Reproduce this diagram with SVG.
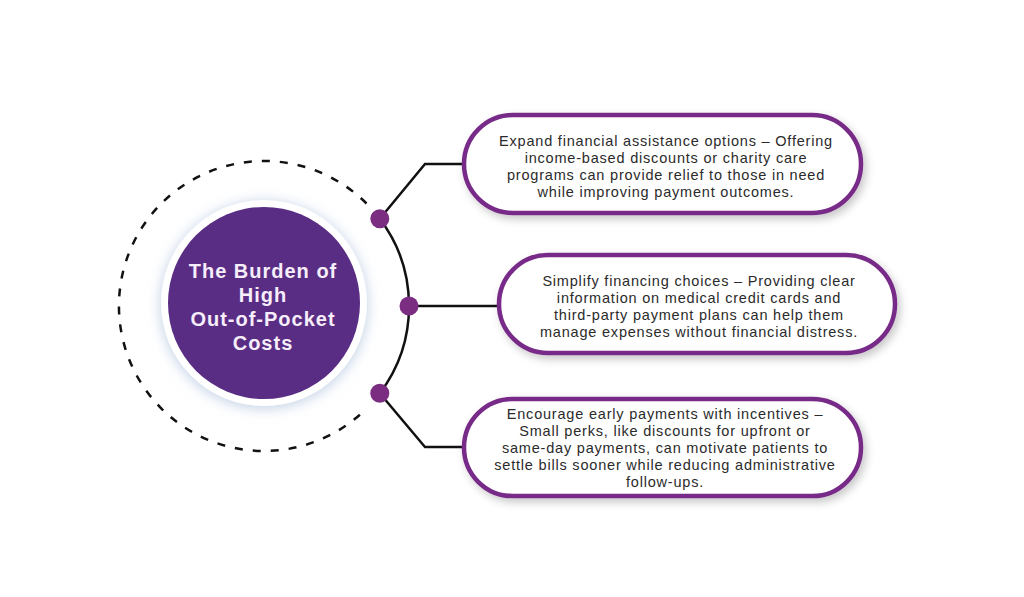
<svg xmlns="http://www.w3.org/2000/svg" width="1024" height="597" viewBox="0 0 1024 597">
<defs>
<filter id="glow" x="-30%" y="-30%" width="160%" height="160%">
<feDropShadow dx="0" dy="2" stdDeviation="7" flood-color="#a9bedc" flood-opacity="0.75"/>
</filter>
<filter id="shadow" x="-10%" y="-20%" width="125%" height="160%">
<feDropShadow dx="3" dy="4" stdDeviation="4" flood-color="#000" flood-opacity="0.22"/>
</filter>
<style>
.box{fill:#ffffff;stroke:#772c88;stroke-width:4.5;filter:url(#shadow)}
.txt{font-family:"Liberation Sans",Arial,sans-serif;font-size:14.5px;letter-spacing:0.8px;fill:#2b2b2b;text-anchor:middle}
.title{font-family:"Liberation Sans",Arial,sans-serif;font-size:20px;font-weight:bold;letter-spacing:1px;fill:#f6eefa;text-anchor:middle}
.line{fill:none;stroke:#111111;stroke-width:2.5}
.dot{fill:#7b2d82}
</style>
</defs>
<rect width="1024" height="597" fill="#ffffff"/>
<g id="ring">
<path d="M366.5 203.5 A145 145 0 1 0 366.5 408.5" fill="none" stroke="#111" stroke-width="2.5" stroke-dasharray="8 10"/>
</g>
<g id="connectors">
<path class="line" d="M379.8 218.7 A145 145 0 0 1 379.8 393.3"/>
<path class="line" d="M379.8 218.7 L425 164 L464 164"/>
<path class="line" d="M409 306 L499 306"/>
<path class="line" d="M379.8 393.3 L425 447 L464 447"/>
</g>
<g id="center">
<circle cx="264" cy="303" r="103" fill="#ffffff" filter="url(#glow)"/>
<circle cx="264" cy="303" r="96" fill="#5a2d84"/>
<text class="title" x="263" y="278">The Burden of</text>
<text class="title" x="263" y="302">High</text>
<text class="title" x="263" y="326">Out-of-Pocket</text>
<text class="title" x="263" y="350">Costs</text>
</g>
<g id="dots">
<circle class="dot" cx="379.8" cy="218.7" r="9.5"/>
<circle class="dot" cx="409" cy="306" r="9.5"/>
<circle class="dot" cx="379.8" cy="393.3" r="9.5"/>
</g>
<g id="box1">
<rect class="box" x="464" y="115" width="397" height="98" rx="49"/>
<text class="txt" x="666" y="146">Expand financial assistance options – Offering</text>
<text class="txt" x="666" y="163">income-based discounts or charity care</text>
<text class="txt" x="666" y="180">programs can provide relief to those in need</text>
<text class="txt" x="666" y="197">while improving payment outcomes.</text>
</g>
<g id="box2">
<rect class="box" x="499" y="255" width="396" height="98" rx="49"/>
<text class="txt" x="699" y="286">Simplify financing choices – Providing clear</text>
<text class="txt" x="699" y="303">information on medical credit cards and</text>
<text class="txt" x="699" y="320">third-party payment plans can help them</text>
<text class="txt" x="699" y="337">manage expenses without financial distress.</text>
</g>
<g id="box3">
<rect class="box" x="464" y="399" width="397" height="97" rx="48.5"/>
<text class="txt" x="665" y="419">Encourage early payments with incentives –</text>
<text class="txt" x="665" y="436">Small perks, like discounts for upfront or</text>
<text class="txt" x="665" y="453">same-day payments, can motivate patients to</text>
<text class="txt" x="665" y="470">settle bills sooner while reducing administrative</text>
<text class="txt" x="665" y="487">follow-ups.</text>
</g>
</svg>
